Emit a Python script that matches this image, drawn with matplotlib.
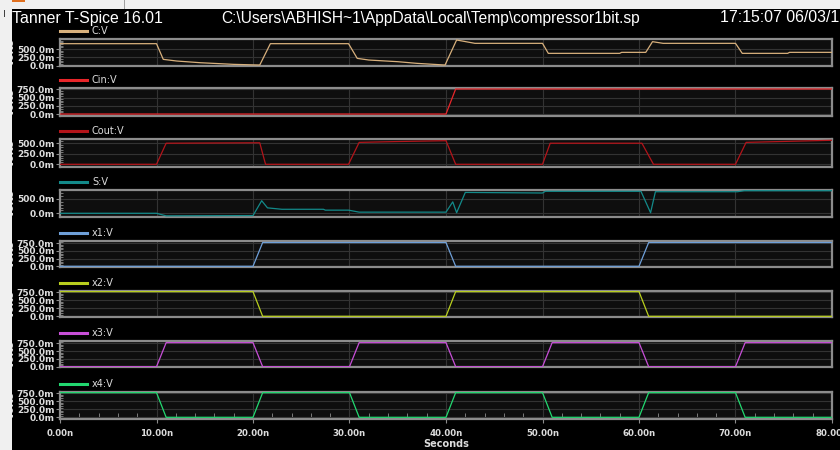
import matplotlib
matplotlib.use("Agg")
import numpy as np
import matplotlib.pyplot as plt
from matplotlib.ticker import FuncFormatter, MultipleLocator, FixedLocator, AutoMinorLocator
from matplotlib.patches import Rectangle

c_t = [0, 10, 10.7, 12.1, 14.5, 18, 20.7, 21.8, 29.9, 30.8, 32, 35, 37, 39.9,
       41.1, 43, 50, 50.6, 58, 58.2, 60.7, 61.4, 62.5, 70, 70.7, 75.4, 75.6, 80]
c_v = [0.66, 0.66, 0.19, 0.14, 0.09, 0.04, 0.02, 0.66, 0.66, 0.22, 0.17, 0.12,
       0.07, 0.02, 0.77, 0.67, 0.67, 0.37, 0.37, 0.40, 0.40, 0.72, 0.67, 0.67,
       0.37, 0.37, 0.40, 0.40]

cin_t = [0, 40, 41, 80]
cin_v = [0, 0, 0.76, 0.76]

cout_t = [0, 10, 11, 20.7, 21.3, 29.9, 31, 35, 40, 41, 50, 50.8, 60.3, 61.5,
          70, 71.1, 80]
cout_v = [0, 0, 0.50, 0.51, 0, 0, 0.52, 0.54, 0.56, 0, 0, 0.50, 0.50, 0, 0,
          0.52, 0.57]

s_t = [0, 10, 11, 20, 20.9, 21.5, 23, 27.3, 27.5, 29.9, 31, 40, 40.7, 41.1,
       42, 50, 50.3, 60.2, 61.2, 61.7, 70.2, 70.9, 80]
s_v = [0, 0, -0.09, -0.08, 0.44, 0.19, 0.14, 0.14, 0.11, 0.11, 0.04, 0.04,
       0.40, 0.02, 0.73, 0.71, 0.77, 0.77, 0.02, 0.755, 0.755, 0.79, 0.79]

x1_t = [0, 20, 21, 40, 41, 60, 61, 80]
x1_v = [0, 0, 0.77, 0.77, 0, 0, 0.77, 0.77]

x2_t = [0, 20, 21, 40, 41, 60, 61, 80]
x2_v = [0.77, 0.77, 0, 0, 0.77, 0.77, 0, 0]

x3_t = [0, 10, 11, 20, 21, 30, 31, 40, 41, 50, 51, 60, 61, 70, 71, 80]
x3_v = [0, 0, 0.77, 0.77, 0, 0, 0.77, 0.77, 0, 0, 0.77, 0.77, 0, 0, 0.77, 0.77]

x4_t = [0, 10, 11, 20, 21, 30, 31, 40, 41, 50, 51, 60, 61, 70, 71, 80]
x4_v = [0.77, 0.77, 0, 0, 0.77, 0.77, 0, 0, 0.77, 0.77, 0, 0, 0.77, 0.77, 0, 0]

names = ["C:V", "Cin:V", "Cout:V", "S:V", "x1:V", "x2:V", "x3:V", "x4:V"]
times = [c_t, cin_t, cout_t, s_t, x1_t, x2_t, x3_t, x4_t]
volts = [c_v, cin_v, cout_v, s_v, x1_v, x2_v, x3_v, x4_v]
colors = ["#d8b07c", "#e8262a", "#b3141a", "#138a8a", "#6e9fd8",
          "#b9cf1e", "#c84fd8", "#22d870"]

# y tick labels shown on each panel
yticks = [[0, 0.25, 0.5], [0, 0.25, 0.5, 0.75], [0, 0.25, 0.5], [0, 0.5],
          [0, 0.25, 0.5, 0.75], [0, 0.25, 0.5, 0.75], [0, 0.25, 0.5, 0.75],
          [0, 0.25, 0.5, 0.75]]

# panel placement in pixels (top, bottom) and y ranges
panels = [(39, 66), (88, 116), (139, 167), (190, 217),
          (241, 267), (291, 317), (341, 367), (392, 419)]
ylims = [(-0.009, 0.80), (-0.06, 0.79), (-0.064, 0.60), (-0.13, 0.815),
         (-0.023, 0.82), (-0.022, 0.79), (-0.010, 0.823), (-0.053, 0.79)]

W, H = 840, 450
fig = plt.figure(figsize=(8.4, 4.5), dpi=100, facecolor="black")

# window chrome
fig.patches.append(Rectangle((0, 1 - 9 / H), 1, 9 / H, transform=fig.transFigure,
                             facecolor="#f0f0f0", edgecolor="none"))
fig.patches.append(Rectangle((0, 0), 12 / W, 1, transform=fig.transFigure,
                             facecolor="#f0f0f0", edgecolor="none"))
fig.patches.append(Rectangle((12 / W, 1 - 2 / H), 13 / W, 2 / H, transform=fig.transFigure,
                             facecolor="#e07020", edgecolor="none"))
fig.patches.append(Rectangle((124 / W, 1 - 9 / H), 1 / W, 9 / H, transform=fig.transFigure,
                             facecolor="#a0a0a0", edgecolor="none"))
fig.patches.append(Rectangle((4 / W, 1 - 17 / H), 1 / W, 7 / H, transform=fig.transFigure,
                             facecolor="#404040", edgecolor="none"))

fig.text(12 / W, 1 - 18 / H, "Tanner T-Spice 16.01", color="white",
         fontsize=11.4, family="Liberation Sans", va="center", ha="left")
fig.text(431 / W, 1 - 18 / H, r"C:\Users\ABHISH~1\AppData\Local\Temp\compressor1bit.sp",
         color="white", fontsize=11.2, family="Liberation Sans", va="center", ha="center")
fig.text(720 / W, 1 - 18 / H, "17:15:07 06/03/17", color="white",
         fontsize=11.4, family="Liberation Sans", va="center", ha="left")

fmt_y = FuncFormatter(lambda v, p: f"{v * 1000:.1f}m")
fmt_x = FuncFormatter(lambda v, p: f"{v:.2f}n")

for i in range(8):
    top, bot = panels[i]
    ax = fig.add_axes([60 / W, 1 - bot / H, 772 / W, (bot - top) / H])
    ax.set_facecolor("#0e0e0e")
    ax.plot(times[i], volts[i], color=colors[i], lw=0.9, zorder=3)
    ax.set_xlim(0, 80)
    ax.set_ylim(*ylims[i])
    ax.xaxis.set_major_locator(MultipleLocator(10))
    ax.yaxis.set_major_locator(FixedLocator(yticks[i]))
    step = yticks[i][1] - yticks[i][0]
    minors = [m for m in np.arange(0, ylims[i][1], step / 5) if m >= ylims[i][0]]
    ax.yaxis.set_minor_locator(FixedLocator(minors))
    ax.yaxis.set_major_formatter(fmt_y)
    ax.grid(True, which="major", color="#333333", lw=0.8)
    for s in ax.spines.values():
        s.set_color("#8c8c8c")
        s.set_linewidth(1.6)
    ax.tick_params(axis="y", which="major", direction="out", length=3,
                   color="#8c8c8c", labelcolor="#dcdcdc", labelsize=6.5, pad=1)
    ax.tick_params(axis="y", which="minor", direction="in", length=2, color="#8c8c8c")
    for lab in ax.get_yticklabels():
        lab.set_fontweight("bold")
    ax.set_ylabel("Volts", color="#dcdcdc", fontsize=7, fontweight="bold", labelpad=1)
    ax.yaxis.set_label_coords(-44 / 772, 0.5)
    if i == 7:
        ax.xaxis.set_minor_locator(MultipleLocator(2))
        ax.xaxis.set_major_formatter(fmt_x)
        ax.tick_params(axis="x", which="major", direction="out", length=3,
                       color="#8c8c8c", labelcolor="#dcdcdc", labelsize=6.2, pad=4)
        ax.tick_params(axis="x", which="minor", direction="in", length=4,
                       color="#8c8c8c")
        for lab in ax.get_xticklabels():
            lab.set_fontweight("bold")
        ax.set_xlabel("Seconds", color="#dcdcdc", fontsize=7, fontweight="bold", labelpad=1)
    else:
        ax.tick_params(axis="x", length=0, labelbottom=False)

    # legend swatch above the panel
    ly = 1 - (top - 8) / H
    fig.add_artist(plt.Line2D([60 / W, 87 / W], [ly, ly], color=colors[i], lw=2.2,
                              transform=fig.transFigure))
    fig.text(92 / W, ly, names[i], color="#dcdcdc", fontsize=7, va="center", ha="left")

fig.savefig("out.png", dpi=100, facecolor="black")
